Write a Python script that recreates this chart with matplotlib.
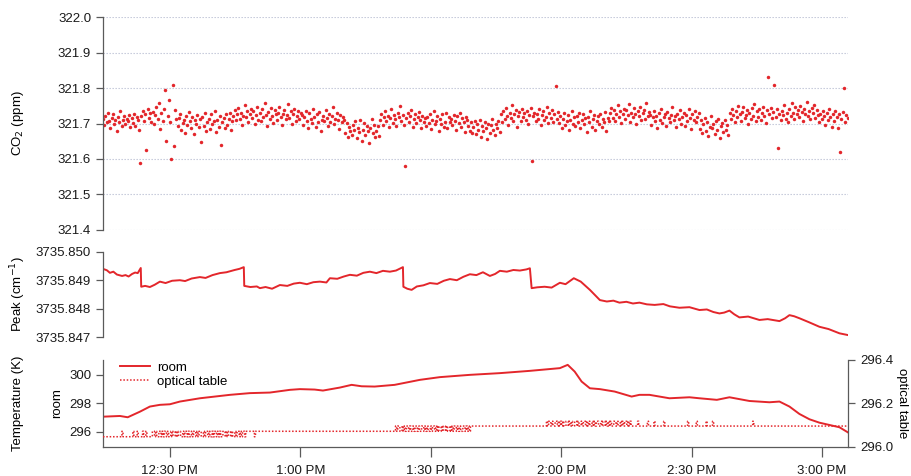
import numpy as np
import matplotlib
matplotlib.use("Agg")
import matplotlib.pyplot as plt

plt.rcParams['font.family'] = ['Liberation Sans', 'DejaVu Sans']

RED = '#e3262b'
GREY = '#5a5a5a'

# time axis in minutes after 12:00
t_start = 14.6
t_end = 185.9
xtick_min = [30, 60, 90, 120, 150, 180]
xtick_lab = ['12:30 PM', '1:00 PM', '1:30 PM', '2:00 PM', '2:30 PM', '3:00 PM']

# CO2 readings, offset from 321.700 ppm in units of 0.001 ppm (regular sampling)
co2_milli = [
    12, -5, 20, 3, 31, 8, -14, 15, 26, 0, 9, -20, 18, 5, 34, -8, 11, 22, -2, 14,
    7, 25, -11, 16, 1, 28, -6, 19, 10, -17, -110, 21, 36, 8, 27, -76, 40, 15, 29, 4,
    33, -2, 24, 47, 12, 58, -15, 30, 6, 41, 95, -48, 22, 65, 3, -100, 110, -62, 38, 14,
    -8, 15, 27, -19, 2, 10, -27, 21, -3, 33, 6, -14, 18, -30, 9, 0, 24, -11, 13, -52,
    17, -6, 29, -21, 5, 12, -16, 26, -2, 8, 35, -24, 11, -9, 20, -60, 3, 16, -13, 28,
    -4, 14, 30, -17, 7, 21, 38, 9, 26, 45, 12, 31, -5, 22, 52, 17, 34, 3, 28, 41,
    15, 36, -2, 24, 48, 11, 29, 6, 40, 19, 58, 25, -8, 33, 14, 44, 21, 2, 37, 26,
    9, 31, 47, 18, -4, 27, 39, 12, 23, 55, 16, 34, 0, 28, 42, 7, 21, 35, 13, 30,
    24, -3, 17, 36, 8, -12, 29, 14, 1, 41, 19, -9, 26, 5, 33, -20, 11, 22, 7, 38,
    15, -6, 28, 3, 20, 46, -1, 13, 31, 9, -15, 25, 4, 18, 10, -28, 2, -37, -10, -22,
    -31, -5, -19, 6, -40, -12, -25, 9, -48, -17, 1, -33, -8, -22, -55, -14, 12, -27, -3, -38,
    -20, -6, -35, 11, 27, -3, 19, 34, 6, 22, -10, 15, 40, 2, 25, 13, -7, 30, 18, 50,
    8, 23, -5, -120, 16, 31, 4, 20, 38, -9, 12, 27, 1, 17, 33, 10, -12, 21, 3, 16,
    -7, 19, 2, 28, -15, 11, 35, -2, 8, 22, -20, 14, 0, 26, -9, 5, 31, -13, 17, 4,
    12, -4, 25, 7, -18, 20, 1, 30, -10, 15, 3, -23, 18, 9, -6, -20, 3, -28, -9, 8,
    -30, -2, -17, 10, -38, -8, -22, 5, -13, -45, 0, -26, -5, 14, -19, -33, -1, -12, 7, -24,
    26, 3, 35, 12, 44, 21, -4, 30, 15, 51, 8, 27, 38, -10, 22, 33, 6, 40, 17, 29,
    11, 36, 0, 24, 45, -107, 20, 31, 7, 28, 14, 42, -5, 25, 35, 9, 19, 48, 2, 30,
    16, 39, 4, 27, 106, 13, 33, 2, 20, -12, 14, 29, -3, 8, 24, -18, 11, 35, 0, 17,
    -6, 22, 5, 31, -14, 10, 26, -2, 15, -25, 18, 3, 36, -9, 12, 25, -17, 7, 20, -1,
    28, -11, 13, 4, 33, -20, 16, 6, 30, 45, 15, 37, 8, 26, 52, 19, 34, 2, 28, 41,
    12, 38, 24, 55, 5, 31, 17, 44, 26, -2, 35, 20, 48, 10, 29, 39, 14, 58, 22, 33,
    25, -4, 18, 36, 7, 21, -13, 30, 11, 42, 2, 19, 27, -8, 33, 15, 5, 24, 46, 9,
    20, -10, 28, 13, 38, 0, 17, 31, -6, 23, 8, 40, 15, -15, 26, 11, 35, 3, 19, 29,
    -15, 10, -28, -2, 16, -20, 4, -36, -9, 21, -13, -1, -30, 8, -18, 13, -42, -6, 2, -24,
    9, -17, -3, -31, 30, 12, 41, 25, 3, 36, 19, 50, 27, 8, 33, 46, 16, 24, 38, -1,
    29, 14, 43, 22, 55, 6, 35, 18, 40, 11, 31, 48, 21, 2, 37, 130, 26, 45, 15, 33,
    110, 19, 42, -70, 28, 9, 36, 24, 51, 14, 30, 4, 40, 22, 57, 31, 12, 46, 27, 38,
    18, 49, 33, 8, 42, 26, 60, 21, 35, 14, 45, 29, 52, 16, 38, 24, 5, 28, 14, 36,
    22, -3, 31, 10, 40, 17, -9, 26, 6, 35, 19, -14, 28, -80, 12, 33, 100, 4, 24, 16,
]

# peak position (cm-1)
peak_t = [14.6, 15.5, 16.2, 17.0, 17.8, 19.0, 19.8, 20.5, 21.3, 22.0, 22.6, 23.3, 23.4,
          24.3, 25.4, 26.5, 27.7, 29.0, 30.5, 32.3, 33.5, 35.0, 36.9, 38.2, 39.8, 41.5,
          43.0, 44.9, 46.0, 47.0, 47.1, 48.5, 50.0, 50.7, 52.0, 53.5, 55.3, 57.0, 58.5,
          59.9, 61.5, 63.0, 64.5, 66.0, 66.8, 68.5, 70.0, 71.4, 73.0, 74.5, 76.0, 77.5,
          79.0, 80.6, 82.0, 83.6, 83.7, 84.6, 85.6, 86.8, 88.3, 89.8, 91.5, 93.0, 94.4,
          96.0, 97.5, 99.0, 100.5, 102.0, 103.6, 104.8, 105.9, 107.5, 109.0, 110.5, 112.0,
          112.8, 113.2, 114.5, 116.2, 117.8, 119.7, 121.0, 122.9, 124.5, 126.6, 128.9,
          130.5, 132.0, 133.4, 135.0, 136.5, 138.0, 139.7, 141.5, 143.5, 145.0, 147.2,
          149.5, 151.8, 153.5, 155.0, 156.4, 157.5, 158.7, 159.8, 161.0, 163.0, 165.6,
          167.5, 170.2, 171.5, 172.5, 173.6, 174.8, 177.0, 179.4, 181.5, 184.0, 185.9]
peak_v = [3735.84940, 3735.84935, 3735.84926, 3735.84930, 3735.84920, 3735.84915,
          3735.84918, 3735.84913, 3735.84922, 3735.84927, 3735.84925, 3735.84943,
          3735.84877, 3735.84880, 3735.84876, 3735.84884, 3735.84895, 3735.84890,
          3735.84898, 3735.84900, 3735.84897, 3735.84906, 3735.84911, 3735.84908,
          3735.84918, 3735.84925, 3735.84928, 3735.84936, 3735.84940, 3735.84946,
          3735.84880, 3735.84876, 3735.84878, 3735.84872, 3735.84876, 3735.84870,
          3735.84883, 3735.84880, 3735.84888, 3735.84891, 3735.84886, 3735.84893,
          3735.84895, 3735.84892, 3735.84907, 3735.84905, 3735.84913, 3735.84919,
          3735.84916, 3735.84926, 3735.84930, 3735.84925, 3735.84933, 3735.84930,
          3735.84934, 3735.84946, 3735.84877, 3735.84870, 3735.84866, 3735.84878,
          3735.84882, 3735.84890, 3735.84887, 3735.84898, 3735.84904, 3735.84900,
          3735.84912, 3735.84921, 3735.84918, 3735.84928, 3735.84915, 3735.84922,
          3735.84933, 3735.84930, 3735.84936, 3735.84934, 3735.84938, 3735.84942,
          3735.84872, 3735.84875, 3735.84877, 3735.84874, 3735.84891, 3735.84886,
          3735.84907, 3735.84895, 3735.84866, 3735.84830, 3735.84825, 3735.84828,
          3735.84821, 3735.84824, 3735.84818, 3735.84821, 3735.84815, 3735.84813,
          3735.84816, 3735.84808, 3735.84803, 3735.84805, 3735.84795, 3735.84797,
          3735.84788, 3735.84783, 3735.84786, 3735.84793, 3735.84780, 3735.84769,
          3735.84772, 3735.84760, 3735.84763, 3735.84756, 3735.84766, 3735.84777,
          3735.84773, 3735.84766, 3735.84752, 3735.84736, 3735.84728, 3735.84713,
          3735.84707]

# room temperature (K)
room_t = [14.6, 18.5, 20.3, 23.1, 25.4, 27.7, 30.0, 32.3, 36.9, 43.8, 48.4, 53.0, 57.6,
          59.9, 63.3, 65.2, 69.1, 71.8, 74.1, 77.1, 81.7, 87.5, 92.1, 99.0, 105.9, 112.8,
          119.7, 121.5, 123.1, 124.7, 126.6, 128.9, 132.3, 136.2, 138.0, 140.3, 144.9,
          149.5, 151.8, 155.8, 158.7, 163.3, 167.9, 170.2, 172.5, 174.8, 177.1, 179.4,
          181.7, 184.0, 185.9]
room_v = [297.07, 297.12, 297.03, 297.42, 297.78, 297.90, 297.94, 298.13, 298.36, 298.60,
          298.72, 298.76, 298.95, 299.00, 298.97, 298.90, 299.11, 299.30, 299.20, 299.18,
          299.30, 299.65, 299.84, 300.00, 300.12, 300.28, 300.47, 300.70, 300.23, 299.53,
          299.06, 299.00, 298.83, 298.48, 298.60, 298.60, 298.36, 298.43, 298.36, 298.25,
          298.43, 298.17, 298.08, 298.13, 297.78, 297.26, 296.89, 296.65, 296.49, 296.33,
          295.98]

# optical table thermometer, quantised readings every 0.25 min (digit = level index)
opt_levels = [296.047, 296.072, 296.096, 296.118]
opt_codes = (
    "000000000000000000100000000010001000010010000"
    "0110100110101101001011010110010110100101101011001011010010110101001101011010010110101101"
    "1111111011111111111111111111111111111111111111111111111111111111"
    "111111111111111111111111111111111111111111111111111111111111111111111111"
    "1212211212122121121221211221212112122121211212212112121221212112212121"
    "222222222222222222222222222222222222222222222222222222222222222222222"
    "23233232233232323223323232233232232332323223232332232332323232233232232323323232"
    "2222232222222232222232222222232222222222222222222223222222232222222232222232"
    "2222222222222222222222222222222222232222222222222222222222222222222222222222"
    "22222222222222222222222222222222222222222222222"
)

co2 = 321.7 + np.array(co2_milli) / 1000.0
co2_t = np.linspace(t_start, t_end, len(co2))
opt_v = np.array([opt_levels[int(c)] for c in opt_codes])
opt_t = np.linspace(t_start, t_end, len(opt_v))

fig = plt.figure(figsize=(9.11, 4.76), dpi=100)
ax1 = fig.add_axes([0.113, 0.517, 0.818, 0.447])
ax2 = fig.add_axes([0.113, 0.292, 0.818, 0.179])
ax3 = fig.add_axes([0.113, 0.061, 0.818, 0.183])
ax3r = ax3.twinx()

fs = 9.5
for ax in (ax1, ax2, ax3, ax3r):
    ax.set_xlim(t_start, 186.0)
    ax.patch.set_visible(False)
    for s in ax.spines.values():
        s.set_color(GREY)
        s.set_linewidth(0.9)
    ax.tick_params(colors=GREY, labelcolor='#1a1a1a', labelsize=fs, length=5, width=0.9)

# CO2 panel
ax1.plot(co2_t, co2, 'o', ms=2.5, mew=0, color=RED)
ax1.set_ylim(321.4, 322.0)
ax1.set_yticks([321.4, 321.5, 321.6, 321.7, 321.8, 321.9, 322.0])
ax1.set_yticklabels(['321.4', '321.5', '321.6', '321.7', '321.8', '321.9', '322.0'])
ax1.yaxis.grid(True, linestyle=(0, (1.2, 1.5)), color='#bfc3d6', linewidth=0.8)
ax1.set_xticks([])
for s in ('top', 'right', 'bottom'):
    ax1.spines[s].set_visible(False)

# peak panel
ax2.plot(peak_t, peak_v, '-', lw=1.4, color=RED)
ax2.set_ylim(3735.847, 3735.850)
ax2.set_yticks([3735.847, 3735.848, 3735.849, 3735.850])
ax2.set_yticklabels(['3735.847', '3735.848', '3735.849', '3735.850'])
ax2.set_xticks([])
for s in ('top', 'right', 'bottom'):
    ax2.spines[s].set_visible(False)

# temperature panel
l1, = ax3.plot(room_t, room_v, '-', lw=1.4, color=RED, label='room')
l2, = ax3r.plot(opt_t, opt_v, linestyle=(0, (1, 1.2)), lw=1.1, color=RED,
                drawstyle='steps-mid', label='optical table')
ax3.set_ylim(294.95, 301.05)
ax3.set_yticks([296, 298, 300])
ax3.set_yticklabels(['296', '298', '300'])
ax3r.set_ylim(296.0, 296.4)
ax3r.set_yticks([296.0, 296.2, 296.4])
ax3r.set_yticklabels(['296.0', '296.2', '296.4'])
ax3.set_xticks(xtick_min)
ax3.set_xticklabels(xtick_lab)
ax3.tick_params(axis='x', length=7, pad=6)
ax3.spines['top'].set_visible(False)
ax3.spines['right'].set_visible(False)
ax3r.spines['top'].set_visible(False)
ax3r.spines['left'].set_visible(False)
ax3r.spines['bottom'].set_visible(False)
ax3.set_ylabel('room', fontsize=fs, labelpad=4)
ax3.legend([l1, l2], ['room', 'optical table'], loc='upper left',
           bbox_to_anchor=(0.016, 1.04), frameon=False, fontsize=fs,
           handlelength=2.3, handletextpad=0.5, labelspacing=0.15, borderaxespad=0)

fig.text(0.02, 0.741, 'CO$_2$ (ppm)', rotation=90, ha='center', va='center', fontsize=fs)
fig.text(0.02, 0.382, 'Peak (cm$^{-1}$)', rotation=90, ha='center', va='center', fontsize=fs)
fig.text(0.02, 0.153, 'Temperature (K)', rotation=90, ha='center', va='center', fontsize=fs)
fig.text(0.990, 0.153, 'optical table', rotation=270, ha='center', va='center', fontsize=fs)

fig.savefig('out.png', dpi=100)
